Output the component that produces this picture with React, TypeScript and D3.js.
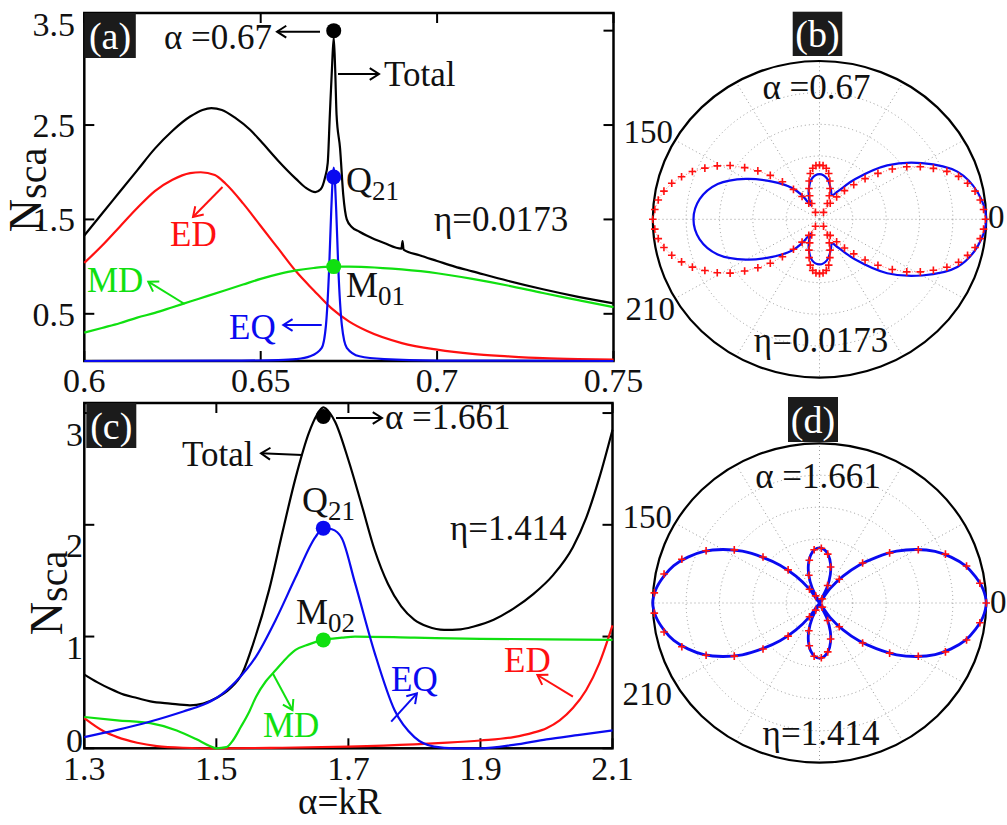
import { useRef, useEffect } from 'react';
import * as d3 from 'd3';

type Pt = [number, number];

const FONT = "'Liberation Serif', 'Times New Roman', Times, serif";
const RED = '#ff1010';
const GREEN = '#10e010';
const BLUE = '#0a0af0';

// ---------- panel (a), eta = 0.0173 ----------
const aTicksX = [0.6, 0.65, 0.7, 0.75];
const aTickLabelsX = ['0.6', '0.65', '0.7', '0.75'];
const aTicksY = [0.5, 1.5, 2.5, 3.5];
const aTickLabelsY = ['0.5', '1.5', '2.5', '3.5'];

const aTotal: Pt[] = [
  [0.600, 1.33], [0.605, 1.56], [0.610, 1.79], [0.615, 2.02], [0.620, 2.25], [0.625, 2.44],
  [0.630, 2.59], [0.6335, 2.66], [0.636, 2.68], [0.639, 2.66], [0.643, 2.57], [0.647, 2.45],
  [0.650, 2.33], [0.655, 2.12], [0.660, 1.93], [0.663, 1.83], [0.6655, 1.79], [0.667, 1.82],
  [0.6682, 1.94], [0.669, 2.10], [0.6696, 2.61], [0.6702, 3.10], [0.6707, 3.43], [0.6711, 3.10],
  [0.6715, 2.61], [0.6725, 2.25], [0.6734, 1.76], [0.6744, 1.50], [0.6758, 1.42], [0.678, 1.37],
  [0.680, 1.33], [0.685, 1.25], [0.6899, 1.19], [0.6902, 1.27], [0.6905, 1.18], [0.695, 1.12],
  [0.700, 1.06], [0.705, 1.00], [0.710, 0.95], [0.720, 0.85], [0.730, 0.76], [0.740, 0.68],
  [0.750, 0.61],
];
const aED: Pt[] = [
  [0.600, 1.04], [0.605, 1.22], [0.610, 1.42], [0.615, 1.62], [0.620, 1.80], [0.625, 1.92],
  [0.630, 1.99], [0.633, 2.00], [0.637, 1.97], [0.640, 1.88], [0.645, 1.67], [0.650, 1.43],
  [0.655, 1.19], [0.660, 0.95], [0.665, 0.75], [0.670, 0.56], [0.675, 0.42], [0.680, 0.32],
  [0.690, 0.19], [0.700, 0.12], [0.710, 0.075], [0.720, 0.05], [0.730, 0.03], [0.740, 0.02],
  [0.750, 0.015],
];
const aMD: Pt[] = [
  [0.600, 0.30], [0.605, 0.35], [0.610, 0.40], [0.615, 0.46], [0.620, 0.51], [0.625, 0.57],
  [0.630, 0.63], [0.635, 0.69], [0.640, 0.75], [0.645, 0.81], [0.650, 0.87], [0.655, 0.92],
  [0.660, 0.96], [0.665, 0.985], [0.670, 1.00], [0.675, 1.00], [0.680, 0.995], [0.690, 0.97],
  [0.700, 0.93], [0.710, 0.87], [0.720, 0.80], [0.730, 0.72], [0.740, 0.645], [0.750, 0.57],
];
const aEQ: Pt[] = [
  [0.600, 0], [0.640, 0.003], [0.655, 0.01], [0.660, 0.02], [0.664, 0.05], [0.6673, 0.14],
  [0.6685, 0.38], [0.6694, 0.98], [0.6700, 1.60], [0.6707, 2.05], [0.6714, 1.60], [0.6720, 0.98],
  [0.6730, 0.38], [0.6744, 0.14], [0.678, 0.05], [0.685, 0.02], [0.700, 0.005], [0.750, 0],
];
const aMarkX = 0.6707;
const aMarkY = [3.5, 1.95, 1.0];

// ---------- panel (c), eta = 1.414 ----------
const cTicksX = [1.3, 1.5, 1.7, 1.9, 2.1];
const cTickLabelsX = ['1.3', '1.5', '1.7', '1.9', '2.1'];
const cTicksY = [0, 1, 2, 3];
const cTickLabelsY = ['0', '1', '2', '3'];

const cTotal: Pt[] = [
  [1.30, 0.66], [1.32, 0.59], [1.34, 0.53], [1.36, 0.48], [1.38, 0.45], [1.40, 0.42],
  [1.43, 0.40], [1.46, 0.385], [1.48, 0.40], [1.50, 0.45], [1.52, 0.53], [1.54, 0.68],
  [1.556, 0.94], [1.58, 1.42], [1.60, 1.93], [1.62, 2.42], [1.64, 2.82], [1.652, 2.98],
  [1.662, 3.05], [1.672, 3.00], [1.68, 2.92], [1.70, 2.58], [1.72, 2.18], [1.74, 1.77],
  [1.76, 1.47], [1.78, 1.27], [1.80, 1.15], [1.82, 1.09], [1.845, 1.06], [1.87, 1.065],
  [1.89, 1.09], [1.92, 1.15], [1.95, 1.25], [1.98, 1.38], [2.01, 1.55], [2.04, 1.80],
  [2.06, 2.06], [2.08, 2.42], [2.10, 2.85],
];
const cED: Pt[] = [
  [1.30, 0.27], [1.33, 0.15], [1.35, 0.10], [1.38, 0.05], [1.41, 0.02], [1.45, 0.005],
  [1.50, 0], [1.60, 0.005], [1.70, 0.015], [1.80, 0.035], [1.85, 0.05], [1.90, 0.07],
  [1.95, 0.10], [1.98, 0.14], [2.00, 0.18], [2.02, 0.25], [2.04, 0.36], [2.06, 0.52],
  [2.08, 0.76], [2.10, 1.10],
];
const cMD: Pt[] = [
  [1.30, 0.28], [1.35, 0.25], [1.40, 0.225], [1.44, 0.16], [1.47, 0.08], [1.49, 0.02],
  [1.50, 0], [1.515, 0.01], [1.525, 0.07], [1.537, 0.19], [1.55, 0.33], [1.56, 0.46],
  [1.575, 0.60], [1.59, 0.70], [1.605, 0.80], [1.62, 0.88], [1.64, 0.93], [1.662, 0.97],
  [1.69, 0.99], [1.71, 1.0], [1.80, 0.99], [1.90, 0.98], [2.00, 0.975], [2.10, 0.97],
];
const cEQ: Pt[] = [
  [1.30, 0.10], [1.35, 0.165], [1.40, 0.24], [1.45, 0.33], [1.48, 0.39], [1.50, 0.45],
  [1.53, 0.60], [1.56, 0.82], [1.59, 1.15], [1.62, 1.53], [1.65, 1.89], [1.662, 1.97],
  [1.675, 1.96], [1.69, 1.88], [1.71, 1.48], [1.74, 0.85], [1.77, 0.34], [1.80, 0.10],
  [1.83, 0.015], [1.86, 0], [1.90, 0], [1.95, 0.03], [2.00, 0.08], [2.05, 0.12], [2.10, 0.16],
];
const cMarkX = 1.662;
const cMarkY = [2.97, 1.97, 0.97];

// ---------- polar (b), upper half (0..180 deg), mirrored below ----------
const bBlueAng = [0, 10, 20, 30, 40, 50, 58, 64, 70, 80, 90, 100, 110, 116, 120, 125, 130, 140, 150, 160, 170, 180];
const bBlueR = [1.0, 0.965, 0.88, 0.71, 0.53, 0.33, 0.21, 0.17, 0.2, 0.262, 0.285, 0.262, 0.19, 0.14, 0.105, 0.19, 0.26, 0.37, 0.51, 0.65, 0.73, 0.756];
// markers every 3.6 deg
const bRedR = [
  0.995, 0.986, 0.972, 0.95, 0.917, 0.877, 0.822, 0.755, 0.69, 0.62, 0.54, 0.455, 0.375, 0.3, 0.235,
  0.175, 0.12, 0.05, 0.11, 0.16, 0.205, 0.25, 0.295, 0.325, 0.34, 0.343, 0.34, 0.325, 0.295, 0.25,
  0.205, 0.16, 0.11, 0.05, 0.12, 0.178, 0.245, 0.325, 0.405, 0.48, 0.555, 0.635, 0.7, 0.76, 0.82,
  0.87, 0.915, 0.95, 0.975, 0.99, 1.0,
];

// ---------- polar (d) ----------
const dBlueR = [
  1.0, 0.985, 0.95, 0.905, 0.84, 0.765, 0.67, 0.565, 0.445, 0.335, 0.22, 0.11, 0.0, 0.105, 0.19, 0.255,
  0.305, 0.335, 0.345, 0.335, 0.305, 0.255, 0.19, 0.105, 0.0, 0.11, 0.22, 0.335, 0.445, 0.565, 0.67,
  0.765, 0.84, 0.905, 0.95, 0.985, 1.0,
];
// 49 markers around the circle, first 25 (0..176.3 deg)
const dRedR = [
  1.0, 0.97, 0.912, 0.815, 0.68, 0.525, 0.36, 0.19, 0.03, 0.12, 0.235, 0.31, 0.343, 0.335, 0.275,
  0.185, 0.05, 0.105, 0.28, 0.445, 0.61, 0.755, 0.87, 0.95, 0.993,
];

type Sel = d3.Selection<any, unknown, null, undefined>;

function arrow(g: Sel, x1: number, y1: number, x2: number, y2: number, color: string) {
  g.append('line').attr('x1', x1).attr('y1', y1).attr('x2', x2).attr('y2', y2)
    .attr('stroke', color).attr('stroke-width', 2);
  const a = Math.atan2(y2 - y1, x2 - x1);
  const L = 11, w = Math.PI / 5.5;
  g.append('path')
    .attr('d', `M${x2 - L * Math.cos(a - w)},${y2 - L * Math.sin(a - w)}L${x2},${y2}L${x2 - L * Math.cos(a + w)},${y2 - L * Math.sin(a + w)}`)
    .attr('fill', 'none').attr('stroke', color).attr('stroke-width', 2);
}

function txt(g: Sel, x: number, y: number, main: string, color = '#111', size = 35, sub?: string, anchor = 'start') {
  const t = g.append('text').attr('x', x).attr('y', y).attr('fill', color)
    .attr('font-size', size).attr('font-family', FONT).attr('text-anchor', anchor);
  t.append('tspan').text(main);
  if (sub) t.append('tspan').attr('font-size', size * 0.75).attr('dy', 8).text(sub);
  return t;
}

function tagBox(g: Sel, x: number, y: number, w: number, h: number, s: string) {
  g.append('rect').attr('x', x).attr('y', y).attr('width', w).attr('height', h).attr('fill', '#1b1b1b');
  g.append('text').attr('x', x + w / 2).attr('y', y + h - 9).attr('text-anchor', 'middle')
    .attr('fill', '#fff').attr('font-size', 38).attr('font-family', FONT).text(s);
}

interface LinePanel {
  x: d3.ScaleLinear<number, number>;
  y: d3.ScaleLinear<number, number>;
  ticksX: number[]; labelsX: string[];
  ticksY: number[]; labelsY: string[];
  labelYRight: number; labelYDy: number[];
  labelXBase: number;
  series: { data: Pt[]; color: string }[];
  markX: number; markY: number[];
}

function drawLinePanel(svg: Sel, p: LinePanel) {
  const g = svg.append('g');
  const [x0, x1] = p.x.range();
  const [y0, y1] = p.y.range();
  g.append('rect').attr('x', x0).attr('y', y1).attr('width', x1 - x0).attr('height', y0 - y1)
    .attr('fill', 'none').attr('stroke', '#000').attr('stroke-width', 2.5);
  const tl = 10;
  p.ticksX.forEach((t, i) => {
    const xx = p.x(t);
    g.append('line').attr('x1', xx).attr('x2', xx).attr('y1', y0).attr('y2', y0 - tl).attr('stroke', '#000').attr('stroke-width', 2);
    g.append('line').attr('x1', xx).attr('x2', xx).attr('y1', y1).attr('y2', y1 + tl).attr('stroke', '#000').attr('stroke-width', 2);
    g.append('text').attr('x', xx).attr('y', p.labelXBase).attr('text-anchor', 'middle')
      .attr('font-size', 34).attr('font-family', FONT).attr('fill', '#111').text(p.labelsX[i]);
  });
  p.ticksY.forEach((t, i) => {
    const yy = p.y(t);
    g.append('line').attr('x1', x0).attr('x2', x0 + tl).attr('y1', yy).attr('y2', yy).attr('stroke', '#000').attr('stroke-width', 2);
    g.append('line').attr('x1', x1).attr('x2', x1 - tl).attr('y1', yy).attr('y2', yy).attr('stroke', '#000').attr('stroke-width', 2);
    g.append('text').attr('x', p.labelYRight).attr('y', yy + p.labelYDy[i]).attr('dy', '0.35em')
      .attr('text-anchor', 'end').attr('font-size', 34).attr('font-family', FONT).attr('fill', '#111').text(p.labelsY[i]);
  });
  const line = d3.line<Pt>().x(d => p.x(d[0])).y(d => p.y(d[1])).curve(d3.curveMonotoneX);
  p.series.forEach(s => {
    g.append('path').datum(s.data).attr('d', line).attr('fill', 'none')
      .attr('stroke', s.color).attr('stroke-width', 2.2);
  });
  const dotColors = ['#000', BLUE, GREEN];
  p.markY.forEach((v, i) => {
    g.append('circle').attr('cx', p.x(p.markX)).attr('cy', p.y(v)).attr('r', 7.5).attr('fill', dotColors[i]);
  });
  return g;
}

function mirror(ang: number[], r: number[], endsAt180: boolean): Pt[] {
  const half: Pt[] = ang.map((a, i) => [a, r[i]]);
  const back = (endsAt180 ? half.slice(1, -1) : half.slice(1)).reverse().map(([a, v]) => [360 - a, v] as Pt);
  return [...half, ...back];
}

function drawPolar(svg: Sel, cx: number, cy: number, rx: number, ry: number,
  blue: Pt[], red: Pt[], blueWidth: number, redLine: boolean) {
  const g = svg.append('g');
  const sx = d3.scaleLinear().domain([0, 1]).range([0, rx]);
  const sy = d3.scaleLinear().domain([0, 1]).range([0, ry]);
  const pos = ([deg, r]: Pt): Pt => {
    const t = (deg * Math.PI) / 180;
    return [cx + sx(r) * Math.cos(t), cy - sy(r) * Math.sin(t)];
  };
  const grid = '#9a9a9a';
  [0.2, 0.4, 0.6, 0.8].forEach(f => {
    g.append('ellipse').attr('cx', cx).attr('cy', cy).attr('rx', sx(f)).attr('ry', sy(f))
      .attr('fill', 'none').attr('stroke', grid).attr('stroke-width', 1).attr('stroke-dasharray', '1,3');
  });
  d3.range(0, 360, 30).forEach(deg => {
    const [px, py] = pos([deg, 1]);
    g.append('line').attr('x1', cx).attr('y1', cy).attr('x2', px).attr('y2', py)
      .attr('stroke', grid).attr('stroke-width', 1).attr('stroke-dasharray', '1,3');
  });
  g.append('ellipse').attr('cx', cx).attr('cy', cy).attr('rx', rx).attr('ry', ry)
    .attr('fill', 'none').attr('stroke', '#000').attr('stroke-width', 2.2);

  const closed = d3.line<Pt>().x(d => pos(d)[0]).y(d => pos(d)[1]).curve(d3.curveCatmullRomClosed.alpha(0.5));
  if (redLine) {
    g.append('path').datum(red).attr('d', d3.line<Pt>().x(d => pos(d)[0]).y(d => pos(d)[1]).curve(d3.curveLinearClosed))
      .attr('fill', 'none').attr('stroke', RED).attr('stroke-width', 1).attr('stroke-dasharray', '1,2').attr('opacity', 0.6);
  }
  g.append('path').datum(blue).attr('d', closed).attr('fill', 'none')
    .attr('stroke', BLUE).attr('stroke-width', blueWidth);
  g.selectAll('path.mk').data(red).enter().append('path').attr('class', 'mk')
    .attr('transform', d => `translate(${pos(d)[0]},${pos(d)[1]})`)
    .attr('d', 'M-3.8,0H3.8M0,-3.8V3.8')
    .attr('stroke', RED).attr('stroke-width', 1.6).attr('fill', 'none');
  return g;
}

export default function App() {
  const ref = useRef<SVGSVGElement>(null);

  useEffect(() => {
    const svg = d3.select(ref.current) as unknown as Sel;
    svg.selectAll('*').remove();
    svg.append('rect').attr('width', 1007).attr('height', 825).attr('fill', '#fff');

    // ----- (a)
    const xA = d3.scaleLinear().domain([0.6, 0.75]).range([84.3, 613.5]);
    const yA = d3.scaleLinear().domain([0, 3.687]).range([361, 13]);
    const gA = drawLinePanel(svg, {
      x: xA, y: yA, ticksX: aTicksX, labelsX: aTickLabelsX, ticksY: aTicksY, labelsY: aTickLabelsY,
      labelYRight: 75, labelYDy: [0, 0, 0, -7], labelXBase: 392,
      series: [
        { data: aTotal, color: '#000' }, { data: aED, color: RED },
        { data: aMD, color: GREEN }, { data: aEQ, color: BLUE },
      ],
      markX: aMarkX, markY: aMarkY,
    });
    tagBox(gA, 84.3, 13, 51.5, 45, '(a)');
    txt(gA, 272, 49, 'α =0.67', '#111', 35, undefined, 'end');
    arrow(gA, 320, 31.7, 277, 31.7, '#000');
    arrow(gA, 338, 74, 379, 74, '#000');
    txt(gA, 384, 86, 'Total');
    txt(gA, 346, 192, 'Q', '#111', 36, '21');
    txt(gA, 434, 231, 'η=0.0173');
    txt(gA, 170, 246, 'ED', RED);
    arrow(gA, 222.5, 187, 193, 217, RED);
    txt(gA, 87, 292, 'MD', GREEN);
    arrow(gA, 184.6, 304, 148.3, 281.7, GREEN);
    txt(gA, 346, 297, 'M', '#111', 36, '01');
    txt(gA, 229, 339, 'EQ', BLUE);
    arrow(gA, 321.7, 325, 283.3, 325, BLUE);
    const nA = gA.append('text').attr('transform', 'translate(41,190) rotate(-90)')
      .attr('text-anchor', 'middle').attr('font-family', FONT).attr('fill', '#111');
    nA.append('tspan').attr('font-size', 46).text('N');
    nA.append('tspan').attr('font-size', 40).attr('dy', 5).text('sca');

    // ----- (c)
    const xC = d3.scaleLinear().domain([1.3, 2.1]).range([84.3, 612.5]);
    const yC = d3.scaleLinear().domain([0, 3.09]).range([748.3, 403]);
    const gC = drawLinePanel(svg, {
      x: xC, y: yC, ticksX: cTicksX, labelsX: cTickLabelsX, ticksY: cTicksY, labelsY: cTickLabelsY,
      labelYRight: 83, labelYDy: [-8, 11, 20, 21], labelXBase: 780,
      series: [
        { data: cTotal, color: '#000' }, { data: cED, color: RED },
        { data: cMD, color: GREEN }, { data: cEQ, color: BLUE },
      ],
      markX: cMarkX, markY: cMarkY,
    });
    tagBox(gC, 86.3, 403, 50, 45, '(c)');
    arrow(gC, 336, 418, 382, 418, '#000');
    txt(gC, 385, 429, 'α =1.661');
    txt(gC, 182, 466, 'Total');
    arrow(gC, 302.3, 455, 261, 453.3, '#000');
    txt(gC, 302, 512, 'Q', '#111', 36, '21');
    txt(gC, 450, 540, 'η=1.414');
    txt(gC, 296, 624, 'M', '#111', 36, '02');
    txt(gC, 391, 691, 'EQ', BLUE);
    arrow(gC, 391.2, 721.7, 416.9, 693.3, BLUE);
    txt(gC, 263, 737, 'MD', GREEN);
    arrow(gC, 272.7, 673.3, 292.5, 710, GREEN);
    txt(gC, 504, 672, 'ED', RED);
    arrow(gC, 572.9, 696.7, 537.4, 675, RED);
    const nC = gC.append('text').attr('transform', 'translate(62,593) rotate(-90)')
      .attr('text-anchor', 'middle').attr('font-family', FONT).attr('fill', '#111');
    nC.append('tspan').attr('font-size', 46).text('N');
    nC.append('tspan').attr('font-size', 40).attr('dy', 5).text('sca');
    txt(gC, 298, 814, 'α=kR', '#111', 37);

    // ----- (b)
    const bRedAng = d3.range(bRedR.length).map(i => i * 3.6);
    const gB = drawPolar(svg, 819.5, 219.3, 166.7, 158.3,
      mirror(bBlueAng, bBlueR, true), mirror(bRedAng, bRedR, true), 2.2, true);
    tagBox(gB, 792.7, 11.7, 49.6, 44.3, '(b)');
    txt(gB, 816.5, 99, 'α =0.67', '#111', 35, undefined, 'middle');
    txt(gB, 821, 352, 'η=0.0173', '#111', 35, undefined, 'middle');
    txt(gB, 673, 143, '150', '#111', 33, undefined, 'end');
    txt(gB, 675, 320, '210', '#111', 33, undefined, 'end');
    txt(gB, 988, 228, '0', '#111', 33);

    // ----- (d)
    const dBlueAng = d3.range(dBlueR.length).map(i => i * 5);
    const dRedAng = d3.range(dRedR.length).map(i => (i * 360) / 49);
    const gD = drawPolar(svg, 819.5, 603, 166.7, 159.7,
      mirror(dBlueAng, dBlueR, true), mirror(dRedAng, dRedR, false), 2.8, false);
    tagBox(gD, 788, 397, 50, 45, '(d)');
    txt(gD, 818, 488, 'α =1.661', '#111', 35, undefined, 'middle');
    txt(gD, 821, 745, 'η=1.414', '#111', 35, undefined, 'middle');
    txt(gD, 672, 528, '150', '#111', 33, undefined, 'end');
    txt(gD, 672, 705, '210', '#111', 33, undefined, 'end');
    txt(gD, 990, 613, '0', '#111', 33);
  }, []);

  return (
    <svg ref={ref} width={1007} height={825}
      style={{ position: 'absolute', left: 0, top: 0, display: 'block' }} />
  );
}
